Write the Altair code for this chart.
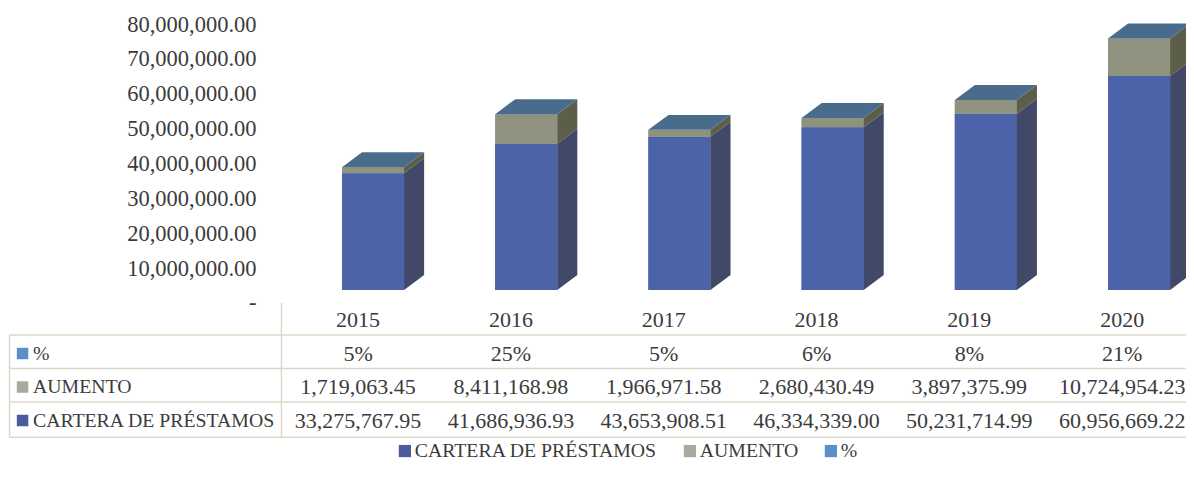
import altair as alt
import pandas as pd

years = ["2015", "2016", "2017", "2018", "2019", "2020"]
cartera = [33275767.95, 41686936.93, 43653908.51, 46334339.00, 50231714.99, 60956669.22]
aumento = [1719063.45, 8411168.98, 1966971.58, 2680430.49, 3897375.99, 10724954.23]
pct_labels = ["5%", "25%", "5%", "6%", "8%", "21%"]
aum_labels = ["1,719,063.45", "8,411,168.98", "1,966,971.58", "2,680,430.49", "3,897,375.99", "10,724,954.23"]
car_labels = ["33,275,767.95", "41,686,936.93", "43,653,908.51", "46,334,339.00", "50,231,714.99", "60,956,669.22"]
row_names = ["%", "AUMENTO", "CARTERA DE PRÉSTAMOS"]
axis_ticks = [0, 10e6, 20e6, 30e6, 40e6, 50e6, 60e6, 70e6, 80e6]

FONT = "Liberation Serif"
TXT = "#3b3b3b"
FS_AXIS, FS_NUM, FS_CAPS = 22.5, 22, 19.8
W, H = 1178, 470

FRONT = {"CARTERA DE PRÉSTAMOS": "#4a63a9", "AUMENTO": "#8f927f", "%": "#5b8fc9"}
SIDE = {"CARTERA DE PRÉSTAMOS": "#424868", "AUMENTO": "#5c5e49"}
TOP = "#4a6c8c"
KEY = {"CARTERA DE PRÉSTAMOS": "#4e5a9e", "AUMENTO": "#a9a99e", "%": "#5b8fc9"}

# Scales: column units across, money down for the bars, table rows for the table
x_scale = alt.Scale(domain=[-1.785, 5.904], nice=False, zero=False)
val_scale = alt.Scale(domain=[-53.56e6, 80.34e6], nice=False, zero=False)
tick_scale = alt.Scale(domain=[-50.2e6, 84.6e6], nice=False, zero=False)
row_scale = alt.Scale(domain=[4.716, -9.313], nice=False, zero=False)

BAR_L, BAR_W, DEPTH, RISE = 0.395, 0.405, 0.131, 4.27e6
COL_STEP = 0.9975

front, side, top = [], [], []
for i, y in enumerate(years):
    l, r = i + BAR_L, i + BAR_L + BAR_W
    b = 0.0
    for name, v in (("CARTERA DE PRÉSTAMOS", cartera[i]), ("AUMENTO", aumento[i])):
        t = b + v
        front.append(dict(year=y, series=name, x=l, x2=r, y=b, y2=t))
        key = f"{y}-{name}"
        side.append(dict(key=key, series=name, x=r, y=b, y2=t))
        side.append(dict(key=key, series=name, x=r + DEPTH, y=b + RISE, y2=t + RISE))
        b = t
    for xx, lo, hi in ((l, b, b), (l + DEPTH, b, b + RISE), (r, b, b + RISE), (r + DEPTH, b + RISE, b + RISE)):
        top.append(dict(key=y, x=xx, y=lo, y2=hi))

series_dom = list(FRONT)
bars = alt.Chart(pd.DataFrame(front)).mark_bar(stroke=None).encode(
    x=alt.X("x:Q", scale=x_scale, axis=None),
    x2="x2:Q",
    y=alt.Y("y:Q", scale=val_scale, axis=None),
    y2="y2:Q",
    color=alt.Color(
        "series:N",
        scale=alt.Scale(domain=series_dom, range=[KEY[s] for s in series_dom]),
        legend=alt.Legend(
            title=None, orient="none", legendX=387, legendY=433, direction="horizontal",
            symbolType="square", symbolSize=150, symbolStrokeWidth=0, labelFont=FONT, labelFontSize=FS_CAPS,
            labelColor=TXT, columnPadding=22, labelOffset=0, values=series_dom, symbolOpacity=1, labelLimit=0,
        ),
    ),
)
# The front faces keep their own colours on top of the legend-bearing layer
faces = alt.Chart(pd.DataFrame(front)).mark_bar(stroke=None).encode(
    x=alt.X("x:Q", scale=x_scale, axis=None),
    x2="x2:Q",
    y=alt.Y("y:Q", scale=val_scale, axis=None),
    y2="y2:Q",
    fill=alt.Fill("series:N", scale=alt.Scale(domain=series_dom, range=[FRONT[s] for s in series_dom]), legend=None),
)
sides = alt.Chart(pd.DataFrame(side)).mark_area(orient="vertical", interpolate="linear").encode(
    x=alt.X("x:Q", scale=x_scale, axis=None),
    y=alt.Y("y:Q", scale=val_scale, axis=None),
    y2="y2:Q",
    detail="key:N",
    fill=alt.Fill("series:N", scale=alt.Scale(domain=list(SIDE), range=list(SIDE.values())), legend=None),
)
tops = alt.Chart(pd.DataFrame(top)).mark_area(orient="vertical", interpolate="linear", color=TOP).encode(
    x=alt.X("x:Q", scale=x_scale, axis=None),
    y=alt.Y("y:Q", scale=val_scale, axis=None),
    y2="y2:Q",
    detail="key:N",
)

# Value axis: its labels sit on the back wall, a little above the bar floor
axis_layer = alt.Chart(pd.DataFrame({"v": axis_ticks})).mark_point(opacity=0).encode(
    y=alt.Y(
        "v:Q", scale=tick_scale,
        axis=alt.Axis(
            values=axis_ticks, title=None, domain=False, ticks=False, grid=False, offset=-248, labelPadding=0,
            labelFont=FONT, labelFontSize=FS_AXIS, labelColor=TXT,
            labelExpr="datum.value === 0 ? '-\u00a0\u00a0' : format(datum.value, ',.2f')",
        ),
    )
)

# Data table
cells = []
for i in range(6):
    c = 0.5 + i * COL_STEP
    cells.append(dict(c=c, r=0, t=years[i]))
    cells.append(dict(c=c, r=1, t=pct_labels[i]))
    cells.append(dict(c=c, r=2, t=aum_labels[i]))
    cells.append(dict(c=c, r=3, t=car_labels[i]))
cell_text = alt.Chart(pd.DataFrame(cells)).mark_text(
    font=FONT, fontSize=FS_NUM, color=TXT, align="center", baseline="middle"
).encode(
    x=alt.X("c:Q", scale=x_scale, axis=None),
    y=alt.Y("r:Q", scale=row_scale, axis=None),
    text="t:N",
)
heads = pd.DataFrame({"c": [-1.622] * 3, "k": [-1.69] * 3, "r": [1, 2, 3], "t": row_names})
head_text = alt.Chart(heads).mark_text(font=FONT, fontSize=FS_CAPS, color=TXT, align="left", baseline="middle").encode(
    x=alt.X("c:Q", scale=x_scale, axis=None),
    y=alt.Y("r:Q", scale=row_scale, axis=None),
    text="t:N",
)
head_keys = alt.Chart(heads).mark_square(size=132, opacity=1).encode(
    x=alt.X("k:Q", scale=x_scale, axis=None),
    y=alt.Y("r:Q", scale=row_scale, axis=None),
    fill=alt.Fill("t:N", scale=alt.Scale(domain=series_dom, range=[KEY[s] for s in series_dom]), legend=None),
)
LINE = "#dcd8c8"
h_lines = alt.Chart(pd.DataFrame({"r": [0.45, 1.45, 2.45, 3.5], "a": [-1.775] * 4, "b": [5.904] * 4})).mark_rule(
    color=LINE, strokeWidth=1.5
).encode(
    x=alt.X("a:Q", scale=x_scale, axis=None), x2="b:Q", y=alt.Y("r:Q", scale=row_scale, axis=None)
)
v_lines = alt.Chart(pd.DataFrame({"c": [0.0, -1.775], "a": [-0.507, 0.45], "b": [3.5, 3.5]})).mark_rule(
    color=LINE, strokeWidth=1.5
).encode(
    x=alt.X("c:Q", scale=x_scale, axis=None), y=alt.Y("a:Q", scale=row_scale, axis=None), y2="b:Q"
)

chart = alt.layer(
    bars, faces, sides, tops, axis_layer, h_lines, v_lines, cell_text, head_text, head_keys
).resolve_scale(y="independent", fill="independent").properties(
    width=W, height=H, padding=0, autosize=alt.AutoSizeParams(type="none", contains="padding"),
    background="#ffffff",
).configure_view(stroke=None)

chart.save("out.html", embed_options={"renderer": "svg", "actions": False})
